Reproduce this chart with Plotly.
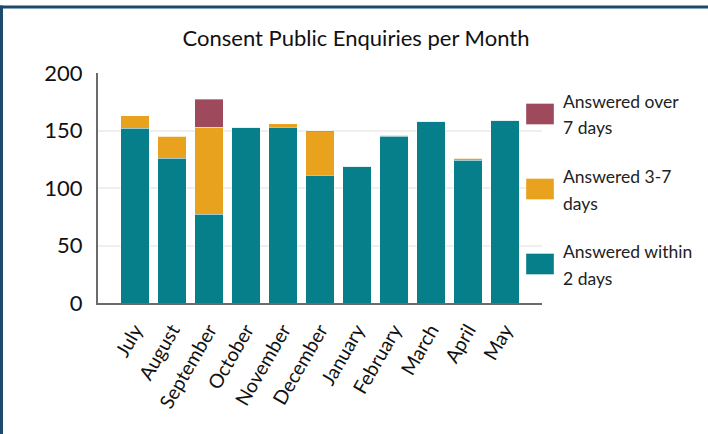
import plotly.graph_objects as go

months = ["July", "August", "September", "October", "November", "December",
          "January", "February", "March", "April", "May"]
within_2_days = [152, 126, 77, 153, 153, 111, 119, 145, 158, 124, 159]
days_3_7 = [11, 19, 76, 0, 3, 38, 0, 1, 0, 2, 0]
over_7_days = [0, 0, 24, 0, 0, 1, 0, 0, 0, 0, 0]

series_names = ["Answered within 2 days", "Answered 3-7 days", "Answered over 7 days"]
colors = ["#067f8a", "#e8a21e", "#9e4a5c"]

FONT = "Lato"

fig = go.Figure()
for name, vals, col in zip(series_names, [within_2_days, days_3_7, over_7_days], colors):
    fig.add_trace(go.Bar(x=months, y=vals, name=name, marker_color=col,
                         marker_line_color="rgba(255,255,255,0.6)", marker_line_width=0.6,
                         showlegend=False))

W, H = 708, 434
L, R, T, B = 98, 166, 73, 131
pw, ph = W - L - R, H - T - B

def px2x(px):
    return (px - L) / pw

def py2y(py):
    return (H - B - py) / ph

shapes = []
# frame lines (top and left)
shapes.append(dict(type="line", xref="paper", yref="paper", x0=px2x(0), x1=px2x(W + 5),
                   y0=py2y(7), y1=py2y(7), line=dict(color="#1b4a6c", width=3), layer="above"))
shapes.append(dict(type="line", xref="paper", yref="paper", x0=px2x(1.5), x1=px2x(1.5),
                   y0=py2y(5.5), y1=py2y(H + 5), line=dict(color="#1b4a6c", width=3), layer="above"))

annotations = []
legend_items = [
    (colors[2], ["Answered over", "7 days"], 114),
    (colors[1], ["Answered 3-7", "days"], 189),
    (colors[0], ["Answered within", "2 days"], 264),
]
for col, lines, cy in legend_items:
    shapes.append(dict(type="rect", xref="paper", yref="paper",
                       x0=px2x(526), x1=px2x(554), y0=py2y(cy - 10.5), y1=py2y(cy + 10.5),
                       fillcolor=col, line=dict(color="rgba(255,255,255,0.6)", width=0.6)))
    for i, t in enumerate(lines):
        annotations.append(dict(text=t, xref="paper", yref="paper", x=px2x(561),
                                y=py2y(cy - 13 + 27 * i), xanchor="left", yanchor="middle",
                                showarrow=False, font=dict(family=FONT, size=17.5, color="#222222")))

fig.update_layout(
    width=W, height=H,
    margin=dict(l=L, r=R, t=T, b=B, autoexpand=False),
    paper_bgcolor="white", plot_bgcolor="white",
    barmode="stack", bargap=0.22,
    title=dict(text="Consent Public Enquiries per Month", x=356 / W, xanchor="center",
               y=1 - 38 / H, yanchor="middle",
               font=dict(family=FONT, size=22, color="#111111")),
    font=dict(family=FONT, color="#111111"),
    shapes=shapes, annotations=annotations,
    xaxis=dict(range=[-1, 11], tickangle=-60, tickfont=dict(family=FONT, size=19.5, color="#111111"),
               showline=True, linecolor="#6b6b6b", linewidth=2, showgrid=False,
               ticks="", ticklabelstandoff=6),
    yaxis=dict(range=[0, 200], tickvals=[0, 50, 100, 150, 200],
               tickfont=dict(family=FONT, size=22, color="#111111"),
               showline=True, linecolor="#6b6b6b", linewidth=2,
               showgrid=True, gridcolor="#efefef", gridwidth=2, zeroline=False,
               ticks="", ticklabelstandoff=9),
)

fig.write_html("out.html", config={"displayModeBar": False},
               post_script="document.body.style.margin='0';document.body.style.overflow='hidden';")
